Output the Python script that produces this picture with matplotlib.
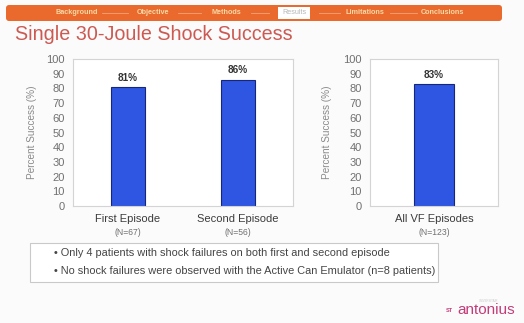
import matplotlib.pyplot as plt
from matplotlib.patches import FancyBboxPatch, Rectangle

# --- data ---
episode_labels = ['First Episode', 'Second Episode']
episode_n = ['(N=67)', '(N=56)']
episode_success = [81, 86]

all_label = ['All VF Episodes']
all_n = ['(N=123)']
all_success = [83]

y_ticks = list(range(0, 101, 10))

nav_items = ['Background', 'Objective', 'Methods', 'Results', 'Limitations', 'Conclusions']
nav_active = 'Results'

notes = [
    '\u2022 Only 4 patients with shock failures on both first and second episode',
    '\u2022 No shock failures were observed with the Active Can Emulator (n=8 patients)',
]

plt.rcParams['font.family'] = ['Liberation Sans', 'DejaVu Sans']

W, H = 524, 323
fig = plt.figure(figsize=(W / 100, H / 100), dpi=100)
fig.patch.set_facecolor('#fbfbfb')

# --- slide decoration in pixel coordinates ---
bg = fig.add_axes([0, 0, 1, 1])
bg.set_xlim(0, W)
bg.set_ylim(H, 0)
bg.axis('off')

bg.add_patch(FancyBboxPatch((6, 5), 496, 16, boxstyle='round,pad=0,rounding_size=3',
                            facecolor='#e96a2c', edgecolor='none'))
nav_x = [77, 153, 226, 294, 365, 442]
for i, (name, x) in enumerate(zip(nav_items, nav_x)):
    if name == nav_active:
        bg.add_patch(Rectangle((x - 16, 7), 32, 12, facecolor='white', edgecolor='none'))
        bg.text(x, 13, name, fontsize=5.2, color='#b8b8b8', ha='center', va='center')
    else:
        bg.text(x, 13, name, fontsize=5.2, color='#f7d9a8', ha='center', va='center',
                fontweight='bold')
    if i < len(nav_items) - 1:
        bg.plot([x + 25, nav_x[i + 1] - 25], [13, 13], color='#f3a47a', lw=0.6)

bg.text(15, 34, 'Single 30-Joule Shock Success', fontsize=14.2, color='#cc5a52',
        ha='left', va='center')

# note box
bg.add_patch(Rectangle((30, 243), 408, 39, facecolor='white', edgecolor='#c9c9c9', lw=0.8))
bg.text(54, 253.5, notes[0], fontsize=7.9, color='#454545', ha='left', va='center')
bg.text(54, 271, notes[1], fontsize=7.9, color='#454545', ha='left', va='center')

# logo
bg.text(446, 311, 'ST', fontsize=4, color='#c33c78', ha='left', va='center', fontweight='bold')
bg.text(457, 310, 'antonius', fontsize=11, color='#c33c78', ha='left', va='center')
bg.text(488, 301, 'UNIVERSITAIR', fontsize=2, color='#c8c8c8', ha='center', va='center')

bar_color = '#2f56e3'
bar_edge = '#17267a'


def style_axes(ax, ncat):
    ax.set_facecolor('white')
    ax.set_xlim(-0.5, ncat - 0.5)
    ax.set_ylim(0, 100)
    ax.set_yticks(y_ticks)
    ax.tick_params(axis='both', length=0)
    ax.tick_params(axis='y', labelsize=8, labelcolor='#707070', pad=6)
    ax.tick_params(axis='x', labelsize=8, labelcolor='#3c3c3c', pad=6)
    for s in ax.spines.values():
        s.set_color('#d4d4d4')
        s.set_linewidth(0.8)
    ax.set_ylabel('Percent Success (%)', fontsize=7.2, color='#8a8a8a')


def draw_bars(ax, labels, ns, values):
    x = list(range(len(labels)))
    bars = ax.bar(x, values, width=0.31, color=bar_color, edgecolor=bar_edge, linewidth=0.8)
    ax.bar_label(bars, labels=[f'{v}%' for v in values], padding=3,
                 fontsize=7.2, fontweight='bold', color='#333333')
    ax.set_xticks(x, labels)
    for xi, n in zip(x, ns):
        ax.annotate(n, xy=(xi, 0), xycoords=('data', 'axes fraction'),
                    xytext=(0, -19), textcoords='offset points',
                    ha='center', va='center', fontsize=6.2, color='#707070')


ax1 = fig.add_axes([73 / W, 1 - 206 / H, 220 / W, 147 / H])
style_axes(ax1, len(episode_labels))
draw_bars(ax1, episode_labels, episode_n, episode_success)
ax1.yaxis.set_label_coords(-36 / 220, 0.5)

ax2 = fig.add_axes([370 / W, 1 - 206 / H, 128 / W, 147 / H])
style_axes(ax2, len(all_label))
draw_bars(ax2, all_label, all_n, all_success)
ax2.yaxis.set_label_coords(-38 / 128, 0.5)

fig.savefig('out.png', dpi=100)
